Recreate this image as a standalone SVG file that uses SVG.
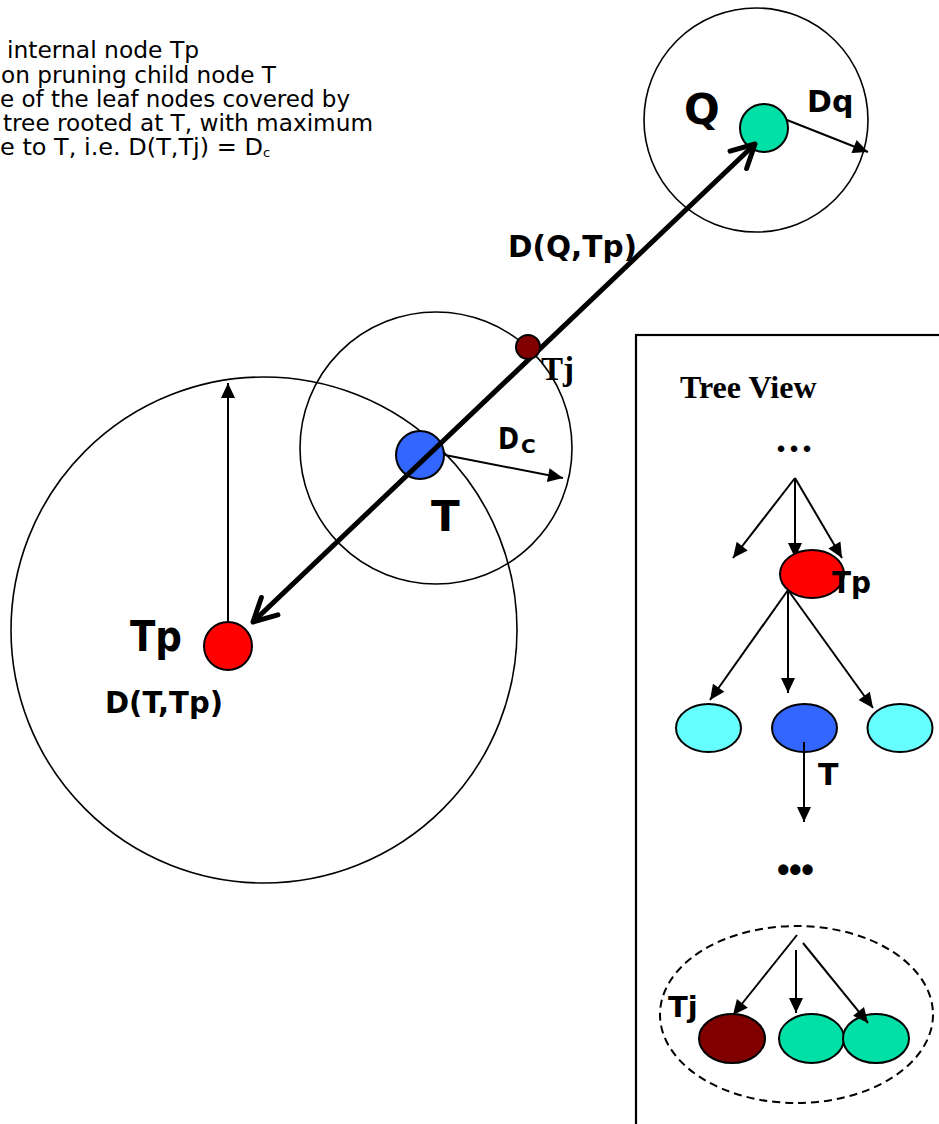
<svg xmlns="http://www.w3.org/2000/svg" width="939" height="1124" viewBox="0 0 939 1124">
<style>
.desc{font-family:"DejaVu Sans","Liberation Sans",sans-serif;font-size:23px;fill:#000}
.lbl{font-family:"DejaVu Sans","Liberation Sans",sans-serif;font-weight:bold;fill:#000}
.ser{font-family:"Liberation Serif","DejaVu Serif",serif;font-weight:bold;fill:#000}
.ring{fill:none;stroke:#000;stroke-width:1.6}
.node{stroke:#000;stroke-width:2}
.thin{stroke:#000;stroke-width:2;fill:none;marker-end:url(#tri)}
.thick{stroke:#000;stroke-width:5;fill:none;marker-end:url(#chev);marker-start:url(#chev)}
</style>
<defs>
<marker id="tri" markerUnits="userSpaceOnUse" viewBox="-16 -8 17 16" refX="0" refY="0" markerWidth="17" markerHeight="16" orient="auto">
<path d="M0,0 L-15,-7 L-15,7 Z" fill="#000"/>
</marker>
<marker id="chev" markerUnits="userSpaceOnUse" viewBox="-28 -16 32 32" refX="0" refY="0" markerWidth="32" markerHeight="32" orient="auto-start-reverse">
<path d="M-23,-12 L0,0 L-23,12" fill="none" stroke="#000" stroke-width="5" stroke-linecap="round" stroke-linejoin="round"/>
</marker>
</defs>
<rect width="939" height="1124" fill="#fff"/>

<g id="description">
<text class="desc" x="7" y="58" textLength="192" lengthAdjust="spacingAndGlyphs">internal node Tp</text>
<text class="desc" x="1" y="82.5" textLength="275" lengthAdjust="spacingAndGlyphs">on pruning child node T</text>
<text class="desc" x="0" y="107" textLength="350" lengthAdjust="spacingAndGlyphs">e of the leaf nodes covered by</text>
<text class="desc" x="3" y="131" textLength="370" lengthAdjust="spacingAndGlyphs">tree rooted at T, with maximum</text>
<text class="desc" x="0" y="155"><tspan textLength="263" lengthAdjust="spacingAndGlyphs">e to T, i.e. D(T,Tj) = D</tspan><tspan font-size="13" dy="2">c</tspan></text>
</g>

<g id="range-Tp"><circle class="ring" cx="264" cy="630" r="253"/></g>
<g id="range-T"><circle class="ring" cx="436" cy="448" r="136"/></g>
<g id="range-Q"><circle class="ring" cx="756" cy="120" r="112"/></g>

<g id="node-T">
<circle class="node" cx="420" cy="455" r="24" fill="#3366FF"/>
<text class="lbl" x="431" y="531" font-size="42">T</text>
</g>
<g id="node-Q">
<circle class="node" cx="764" cy="128" r="24" fill="#00E0A6"/>
<text class="lbl" x="684" y="124" font-size="42">Q</text>
</g>
<g id="node-Tp">
<circle class="node" cx="228" cy="646" r="24" fill="#FF0000"/>
<text class="lbl" x="130" y="651" font-size="42" textLength="52" lengthAdjust="spacingAndGlyphs">Tp</text>
</g>

<g id="labels">
<text class="lbl" x="807" y="112" font-size="30">Dq</text>
<text class="lbl" x="508" y="257" font-size="30" textLength="129" lengthAdjust="spacingAndGlyphs">D(Q,Tp)</text>
<text class="lbl" x="105" y="713" font-size="30" textLength="118" lengthAdjust="spacingAndGlyphs">D(T,Tp)</text>
<text class="lbl" x="498" y="449" font-size="30"><tspan textLength="21" lengthAdjust="spacingAndGlyphs">D</tspan><tspan font-size="20" dy="4" x="521">C</tspan></text>
</g>

<g id="tree-view">
<rect x="636" y="335" width="340" height="820" fill="none" stroke="#000" stroke-width="2.2"/>
<text class="ser" x="680" y="398" font-size="32">Tree View</text>
<text class="ser" x="776" y="452" font-size="40" letter-spacing="3">...</text>
<text class="lbl" x="777" y="882" font-size="36" letter-spacing="-0.5" style="font-family:'Liberation Sans',sans-serif">•••</text>
<ellipse cx="796.5" cy="1014.5" rx="136.5" ry="88.5" fill="none" stroke="#000" stroke-width="2" stroke-dasharray="8 5"/>
</g>

<g id="tree-level2">
<ellipse class="node" cx="708.5" cy="728" rx="32.5" ry="24" fill="#66FFFF"/>
<ellipse class="node" cx="804.5" cy="728" rx="32.5" ry="24" fill="#3366FF"/>
<ellipse class="node" cx="900" cy="728" rx="32.5" ry="24" fill="#66FFFF"/>
</g>
<g id="tree-leaves">
<ellipse class="node" cx="732" cy="1038.5" rx="33" ry="24.5" fill="#800000"/>
<ellipse class="node" cx="811.5" cy="1038.5" rx="32.5" ry="24.5" fill="#00E0A6"/>
<ellipse class="node" cx="876" cy="1038.5" rx="33" ry="24.5" fill="#00E0A6"/>
</g>

<g id="connectors">
<line class="thick" x1="253" y1="622" x2="755" y2="144"/>
<line class="thin" x1="228" y1="622" x2="228" y2="383"/>
<line class="thin" x1="445" y1="455" x2="563" y2="478"/>
<line class="thin" x1="787" y1="120" x2="868" y2="152"/>
<line class="thin" x1="795" y1="478" x2="733" y2="558"/>
<line class="thin" x1="795" y1="478" x2="795" y2="558"/>
<line class="thin" x1="795" y1="478" x2="842" y2="558"/>
<line class="thin" x1="788" y1="590" x2="710" y2="700"/>
<line class="thin" x1="788" y1="590" x2="788" y2="693"/>
<line class="thin" x1="788" y1="590" x2="873" y2="708"/>
<line class="thin" x1="804" y1="742" x2="804" y2="822"/>
<line class="thin" x1="797" y1="935" x2="733" y2="1015"/>
<line class="thin" x1="796" y1="950" x2="796" y2="1013"/>
<line class="thin" x1="803" y1="943" x2="868" y2="1023"/>
</g>

<g id="node-Tj">
<circle class="node" cx="528" cy="347" r="12" fill="#800000"/>
<text class="ser" x="541" y="380" font-size="33">Tj</text>
</g>
<g id="tree-Tp">
<ellipse class="node" cx="812" cy="574" rx="32" ry="24" fill="#FF0000"/>
<text class="lbl" x="832" y="593" font-size="31" textLength="39" lengthAdjust="spacingAndGlyphs">Tp</text>
</g>
<g id="tree-labels">
<text class="lbl" x="818" y="785" font-size="30">T</text>
<text class="lbl" x="668" y="1017" font-size="29">Tj</text>
</g>
</svg>
